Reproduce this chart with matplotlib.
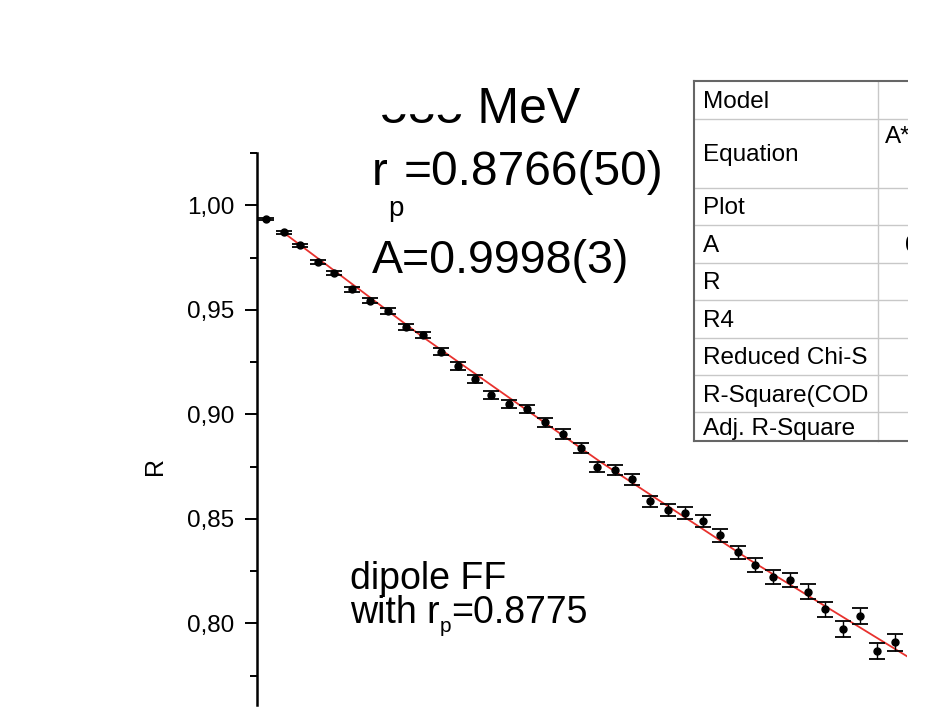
import numpy as np
import matplotlib as mpl
import matplotlib.pyplot as plt
from matplotlib.ticker import MultipleLocator, FuncFormatter
from matplotlib.patches import Rectangle

mpl.rcParams['font.family'] = ['Liberation Sans', 'DejaVu Sans']

# measured points (x is point position, no axis shown)
q = [0.51, 1.54, 2.46, 3.47, 4.42, 5.45, 6.44, 7.49, 8.51, 9.50,
     10.50, 11.50, 12.47, 13.37, 14.42, 15.41, 16.44, 17.47, 18.49, 19.45,
     20.47, 21.45, 22.44, 23.47, 24.47, 25.47, 26.46, 27.46, 28.46, 29.47,
     30.47, 31.47, 32.44, 33.49, 34.47, 35.45, 36.46]
R = [0.9934, 0.9870, 0.9808, 0.9730, 0.9677, 0.9599, 0.9544, 0.9494, 0.9417, 0.9379,
     0.9300, 0.9232, 0.9169, 0.9093, 0.9051, 0.9026, 0.8962, 0.8905, 0.8838, 0.8748,
     0.8734, 0.8689, 0.8584, 0.8541, 0.8529, 0.8490, 0.8421, 0.8340, 0.8279, 0.8222,
     0.8207, 0.8151, 0.8067, 0.7973, 0.8036, 0.7869, 0.7909]
dR = [0.0006, 0.0008, 0.0009, 0.0010, 0.0011, 0.0012, 0.0013, 0.0014, 0.0015, 0.0016,
      0.0017, 0.0018, 0.0019, 0.0020, 0.0020, 0.0021, 0.0022, 0.0023, 0.0024, 0.0025,
      0.0026, 0.0026, 0.0027, 0.0028, 0.0029, 0.0030, 0.0031, 0.0032, 0.0033, 0.0034,
      0.0035, 0.0036, 0.0037, 0.0038, 0.0038, 0.0039, 0.0039]

# fit curve
fit_q = [1.54, 9.31, 19.6, 28.17, 37.14]
fit_R = [0.9868, 0.9380, 0.8774, 0.8303, 0.7843]

# fit table (row names)
table_rows = ["Model", "Equation", "Plot", "A", "R", "R4",
              "Reduced Chi-S", "R-Square(COD", "Adj. R-Square"]

W, H = 952, 717
fig = plt.figure(figsize=(W / 100, H / 100), dpi=100)
rend = fig.canvas.get_renderer()


def px(x, y):
    return x / W, 1 - y / H


def pieces(x, y, parts):
    # text made of pieces (size, vertical shift) one after the other
    for s, size, dy in parts:
        t = fig.text(*px(x, y + dy), s, fontsize=size, ha='left', va='baseline')
        x += t.get_window_extent(renderer=rend).width


# main axes
left, right, top, bottom = 257, 907, 153, 705
ax = fig.add_axes((left / W, 1 - bottom / H, (right - left) / W, (bottom - top) / H))

ax.plot(fit_q, fit_R, color="#e8322e", lw=1.3, zorder=1)
ax.errorbar(q, R, yerr=dR, fmt='o', color='black', ms=5, capsize=5.5,
            elinewidth=1.0, capthick=1.3, zorder=2)

ax.set_xlim(0, 37.14)
ax.set_ylim(0.761, 1.025)
for s in ['top', 'right', 'bottom']:
    ax.spines[s].set_visible(False)
ax.spines['left'].set_linewidth(1.8)
ax.xaxis.set_visible(False)
ax.yaxis.set_major_locator(MultipleLocator(0.05))
ax.yaxis.set_minor_locator(MultipleLocator(0.025))
ax.yaxis.set_major_formatter(FuncFormatter(lambda v, p: f"{v:.2f}".replace('.', ',')))
ax.tick_params(axis='y', which='major', length=8.5, width=1.4, labelsize=17.5, pad=8)
ax.tick_params(axis='y', which='minor', length=5, width=1.4)
ax.text((154.5 - left) / (right - left), (bottom - 466) / (bottom - top), "R",
        transform=ax.transAxes, rotation=90, ha='center', va='center', fontsize=18)

# annotations
fig.text(*px(380, 123), "585 MeV", fontsize=36, ha='left', va='baseline')
fig.patches.append(Rectangle(px(372, 113), (474 - 372) / W, 70 / H,
                             transform=fig.transFigure, color='white', zorder=5))
pieces(372, 185, [("r", 34, 0), ("p", 20, 31), ("=0.8766(50)", 34.5, 0)])
fig.text(*px(372, 273), "A=0.9998(3)", fontsize=33.5, ha='left', va='baseline')
fig.text(*px(350, 589), "dipole FF", fontsize=27, ha='left', va='baseline')
pieces(350, 623, [("with r", 27, 0), ("p", 15, 9), ("=0.8775", 27, 0)])

# fit table, cut at the right edge
tx0, tx1, ty0, ty1 = 692, 907.7, 79, 443
tax = fig.add_axes((tx0 / W, 1 - ty1 / H, (tx1 - tx0) / W, (ty1 - ty0) / H))
tax.set_xlim(tx0, tx1)
tax.set_ylim(ty1, ty0)
tax.axis('off')
tax.add_patch(Rectangle((694, 81), 300, 360, facecolor='white', edgecolor='none'))
edges = [81, 119.3, 187.7, 225, 262.7, 300, 337.7, 375, 412.3, 441]
for y in edges[1:-1]:
    tax.plot([694, 1000], [y, y], color='#c8c8c8', lw=1)
tax.plot([877.7, 877.7], [81, 441], color='#c8c8c8', lw=1)
tax.plot([694, 1000], [81, 81], color='#666666', lw=1.5)
tax.plot([694, 1000], [441, 441], color='#666666', lw=1.5)
tax.plot([694, 694], [81, 441], color='#666666', lw=1.5)
for i, name in enumerate(table_rows):
    yc = (edges[i] + edges[i + 1]) / 2
    tax.text(703, yc + 8, name, fontsize=17.5, ha='left', va='baseline', clip_on=True)
tax.text(885, 143, "A*(...)", fontsize=17.5, ha='left', va='baseline', clip_on=True)
tax.text(905, 252, "0.9998", fontsize=17.5, ha='left', va='baseline', clip_on=True)

fig.savefig("out.png", dpi=100)
